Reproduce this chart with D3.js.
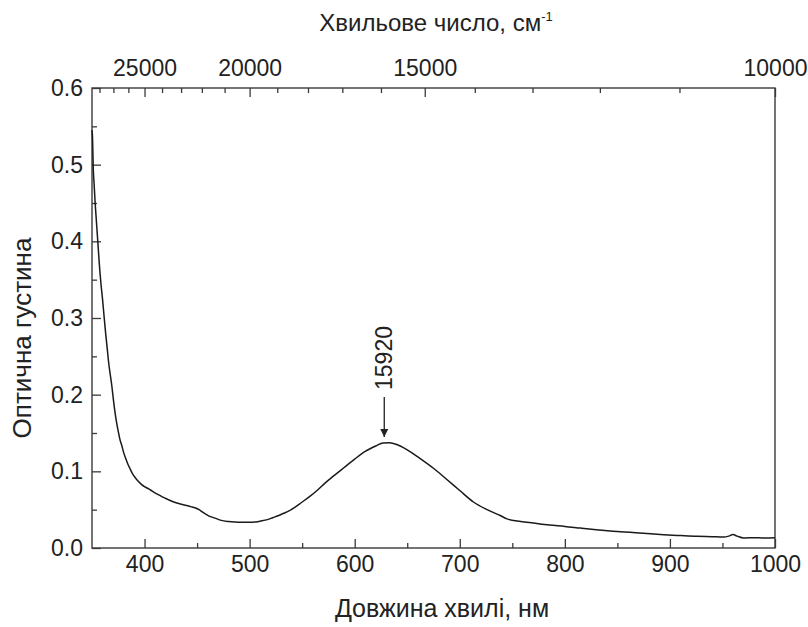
<!DOCTYPE html>
<html><head><meta charset="utf-8">
<script src="https://cdn.jsdelivr.net/npm/d3@7"></script>
<style>
body{margin:0;background:#fff}
text{font-family:"Liberation Sans",Arial,sans-serif;fill:#222}
</style>
</head><body>
<svg id="chart" width="808" height="627"></svg>
<script>
// ---- data ----
const wavelengths = [350,350.5,351.2,352,353,354,355,356,357,358.5,360,361.5,363,364.5,366,367.5,369,370.5,372,373.5,375,376.5,378.5,380,382,384,386,388.5,391,394,397,400,404,407,410,414,418,422,426,430,435,440,444,448,452,456,461,467,473,480,486,493,500,505,510,517,522,527,532,537,543,549,557,565,572,580,590,600,610,620,627,633,640,650,662,675,688,700,713,726,739,745,758,770,785,800,815,830,846,862,878,894,910,926,940,951,956,960,964,970,980,990,1000];
const absorbance = [0.545,0.535,0.495,0.475,0.45,0.43,0.41,0.39,0.37,0.345,0.325,0.302,0.28,0.26,0.24,0.225,0.21,0.192,0.176,0.163,0.152,0.142,0.133,0.125,0.117,0.11,0.104,0.097,0.092,0.087,0.083,0.080,0.077,0.0745,0.072,0.069,0.066,0.0635,0.061,0.059,0.057,0.0555,0.054,0.0525,0.050,0.046,0.042,0.039,0.036,0.0345,0.0338,0.0335,0.0335,0.0338,0.035,0.037,0.0395,0.042,0.045,0.048,0.053,0.059,0.067,0.076,0.085,0.094,0.105,0.116,0.126,0.133,0.137,0.1372,0.135,0.128,0.117,0.104,0.089,0.075,0.060,0.050,0.042,0.038,0.0347,0.0326,0.030,0.0282,0.026,0.0239,0.022,0.0204,0.0188,0.0173,0.0162,0.0152,0.0147,0.0143,0.0155,0.0175,0.0155,0.013,0.0135,0.013,0.0135];
const bottomTicks = [400,500,600,700,800,900,1000];
const bottomMinor = [450,550,650,750,850,950];
const yTicks = [0,0.1,0.2,0.3,0.4,0.5,0.6];
const yMinor = [0.05,0.15,0.25,0.35,0.45,0.55];
const topLabels = [25000,20000,15000,10000];
const topMinor = [28000,27000,26000,24000,23000,22000,21000,19000,18000,17000,16000,14000,13000,12000,11000];
const peakLabel = "15920";
const peakWavenumber = 15920;
const xTitle = "Довжина хвилі, нм";
const yTitle = "Оптична густина";
const topTitle = "Хвильове число, см";

// ---- layout ----
const L = 92, R = 775, T = 88, B = 548;
const FS = 23, TFS = 25;
const svg = d3.select("#chart");
const x = d3.scaleLinear().domain([350,1000]).range([L,R]);
const y = d3.scaleLinear().domain([0,0.6]).range([B,T]);
const axisColor = "#3a3a3a";

function styleAxis(g){
  g.select(".domain").remove();
  g.selectAll(".tick line").attr("stroke",axisColor).attr("stroke-width",1.3);
  g.selectAll(".tick text").attr("font-size",FS).attr("fill","#222").style("font-family",'"Liberation Sans",Arial,sans-serif');
}

// bottom
svg.append("g").attr("transform",`translate(0,${B})`)
  .call(d3.axisBottom(x).tickValues(bottomTicks).tickSizeInner(-9).tickSizeOuter(0).tickPadding(8).tickFormat(d3.format("d")))
  .call(styleAxis);
svg.append("g").attr("transform",`translate(0,${B})`)
  .call(d3.axisBottom(x).tickValues(bottomMinor).tickSizeInner(-5).tickSizeOuter(0).tickFormat(""))
  .call(styleAxis);
// left
svg.append("g").attr("transform",`translate(${L},0)`)
  .call(d3.axisLeft(y).tickValues(yTicks).tickSizeInner(-9).tickSizeOuter(0).tickPadding(9).tickFormat(d3.format(".1f")))
  .call(styleAxis);
svg.append("g").attr("transform",`translate(${L},0)`)
  .call(d3.axisLeft(y).tickValues(yMinor).tickSizeInner(-5).tickSizeOuter(0).tickFormat(""))
  .call(styleAxis);
// top (wavenumber)
const wl = w => 1e7 / w;
svg.append("g").attr("transform",`translate(0,${T})`)
  .call(d3.axisTop(x).tickValues(topLabels.map(wl)).tickSizeInner(-9).tickSizeOuter(0).tickPadding(12).tickFormat(d => Math.round(1e7/d)))
  .call(styleAxis);
svg.append("g").attr("transform",`translate(0,${T})`)
  .call(d3.axisTop(x).tickValues(topMinor.map(wl)).tickSizeInner(-5).tickSizeOuter(0).tickFormat(""))
  .call(styleAxis);

// frame
svg.append("rect").attr("x",L).attr("y",T).attr("width",R-L).attr("height",B-T)
  .attr("fill","none").attr("stroke",axisColor).attr("stroke-width",1.4);

// curve
const pts = wavelengths.map((w,i)=>[w,absorbance[i]]);
svg.append("path").datum(pts)
  .attr("fill","none").attr("stroke","#1a1a1a").attr("stroke-width",1.5)
  .attr("d", d3.line().x(d=>x(d[0])).y(d=>y(d[1])).curve(d3.curveMonotoneX));

// annotation
const px = x(wl(peakWavenumber));
svg.append("defs").append("marker").attr("id","ah").attr("viewBox","0 0 10 10")
  .attr("refX",10).attr("refY",5).attr("markerWidth",8).attr("markerHeight",12)
  .attr("markerUnits","userSpaceOnUse").attr("orient","auto")
  .append("path").attr("d","M0,0 L10,5 L0,10 Z").attr("fill","#222");
svg.append("line").attr("x1",px).attr("x2",px).attr("y1",397).attr("y2",437)
  .attr("stroke","#222").attr("stroke-width",1.3).attr("marker-end","url(#ah)");
svg.append("text").attr("transform",`translate(${px+8},358) rotate(-90)`)
  .attr("text-anchor","middle").attr("font-size",FS).text(peakLabel);

// titles
svg.append("text").attr("x",442).attr("y",617).attr("text-anchor","middle").attr("font-size",TFS).text(xTitle);
svg.append("text").attr("transform",`translate(31,338) rotate(-90)`).attr("text-anchor","middle").attr("font-size",26).text(yTitle);
const tt = svg.append("text").attr("x",436).attr("y",31).attr("text-anchor","middle").attr("font-size",24);
tt.append("tspan").text(topTitle);
tt.append("tspan").attr("dy",-10).attr("font-size",13).text("-1");
</script>
</body></html>
